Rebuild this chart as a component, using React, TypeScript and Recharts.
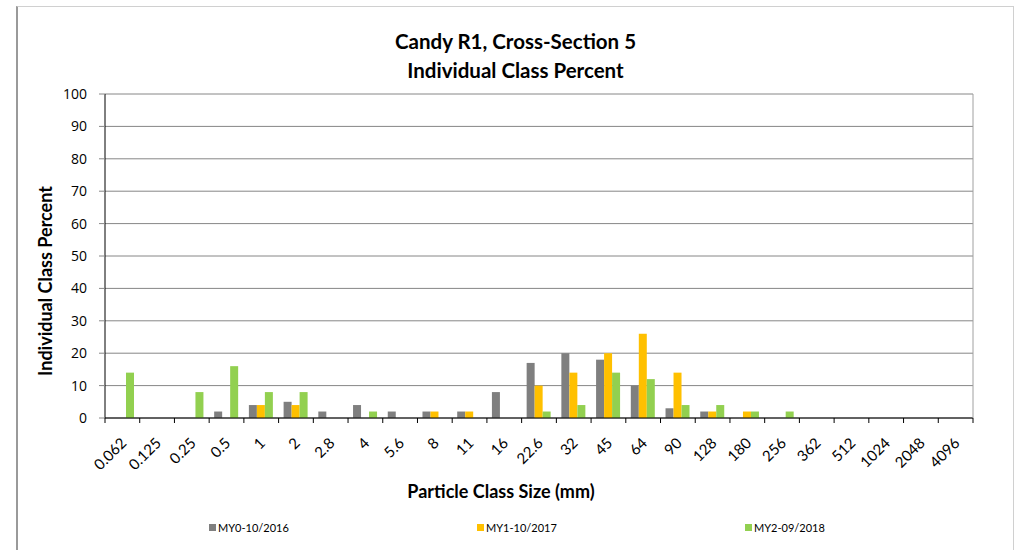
import { BarChart, Bar, XAxis, YAxis, CartesianGrid } from "recharts";

const SIZES = [
  "0.062", "0.125", "0.25", "0.5", "1", "2", "2.8", "4", "5.6", "8", "11", "16", "22.6",
  "32", "45", "64", "90", "128", "180", "256", "362", "512", "1024", "2048", "4096",
];
const MY0 = [0, 0, 0, 2, 4, 5, 2, 4, 2, 2, 2, 8, 17, 20, 18, 10, 3, 2, 0, 0, 0, 0, 0, 0, 0];
const MY1 = [0, 0, 0, 0, 4, 4, 0, 0, 0, 2, 2, 0, 10, 14, 20, 26, 14, 2, 2, 0, 0, 0, 0, 0, 0];
const MY2 = [14, 0, 8, 16, 8, 8, 0, 2, 0, 0, 0, 0, 2, 4, 14, 12, 4, 4, 2, 2, 0, 0, 0, 0, 0];
const SERIES = [
  { key: "my0", name: "MY0-10/2016", color: "#7f7f7f", values: MY0 },
  { key: "my1", name: "MY1-10/2017", color: "#ffc000", values: MY1 },
  { key: "my2", name: "MY2-09/2018", color: "#92d050", values: MY2 },
];
const Y_TICKS = [0, 10, 20, 30, 40, 50, 60, 70, 80, 90, 100];

const FONT = "Lato, 'Open Sans', sans-serif";
const W = 1019;
const H = 550;
const PLOT_LEFT = 105;
const PLOT_RIGHT = 973;
const HALF_BAND = (PLOT_RIGHT - PLOT_LEFT) / SIZES.length / 2;

const data = SIZES.map((size, i) => {
  const row: Record<string, string | number> = { size };
  SERIES.forEach((s) => {
    row[s.key] = s.values[i];
  });
  return row;
});

function SizeTick(props: any) {
  const { x, y, payload, index } = props;
  const ax = x + 5;
  const ay = y + 19;
  const top = y - 7;
  return (
    <g>
      <line x1={x - HALF_BAND} x2={x - HALF_BAND} y1={top} y2={top + 5} stroke="#000" />
      {index === SIZES.length - 1 && (
        <line x1={x + HALF_BAND} x2={x + HALF_BAND} y1={top} y2={top + 5} stroke="#000" />
      )}
      <text
        x={ax}
        y={ay}
        textAnchor="end"
        fontSize={15}
        fontFamily={FONT}
        fill="#000"
        transform={`rotate(-45, ${ax}, ${ay})`}
      >
        {payload.value}
      </text>
    </g>
  );
}

export default function App() {
  return (
    <div style={{ position: "absolute", left: 0, top: 0, width: W, height: H, background: "#fff", overflow: "hidden", fontFamily: FONT }}>
      <div
        style={{
          position: "absolute",
          left: 16,
          top: 6,
          width: 995,
          height: 560,
          border: "1px solid #d0d0d0",
          borderLeft: "2px solid #9a9a9a",
        }}
      />
      <div style={{ position: "absolute", left: 0, top: 0 }}>
        <BarChart
          width={W}
          height={H}
          data={data}
          margin={{ top: 94, right: W - PLOT_RIGHT - 1, bottom: 0, left: 0 }}
          barSize={8}
          barGap={0}
        >
          <CartesianGrid horizontal vertical={false} stroke="#868686" />
          <XAxis
            dataKey="size"
            height={132}
            tickLine={false}
            tickSize={5}
            axisLine={{ stroke: "#000" }}
            tick={<SizeTick />}
            interval={0}
          />
          <YAxis
            width={PLOT_LEFT}
            domain={[0, 100]}
            ticks={Y_TICKS}
            tickSize={6}
            tickMargin={12}
            tickLine={{ stroke: "#868686" }}
            axisLine={{ stroke: "#000" }}
            tick={{ fontSize: 14, fill: "#000", fontFamily: "'Open Sans', sans-serif" }}
            interval={0}
          />
          <YAxis
            yAxisId="frame"
            orientation="right"
            width={1}
            tick={false}
            tickLine={false}
            axisLine={{ stroke: "#a0a0a0" }}
          />
          {SERIES.map((s) => (
            <Bar key={s.key} dataKey={s.key} name={s.name} fill={s.color} isAnimationActive={false} />
          ))}
        </BarChart>
      </div>
      <div style={{ position: "absolute", left: 0, width: W, top: 27, textAlign: "center", fontWeight: 700, fontSize: 20.5, lineHeight: "29px", paddingLeft: 6 }}>
        <div>Candy R1, Cross-Section 5</div>
        <div>Individual Class Percent</div>
      </div>
      <div
        style={{
          position: "absolute",
          left: 45,
          top: 281,
          transform: "translate(-50%, -50%) rotate(-90deg)",
          whiteSpace: "nowrap",
          fontWeight: 700,
          fontSize: 18,
        }}
      >
        Individual Class Percent
      </div>
      <div style={{ position: "absolute", left: 501, top: 491, transform: "translate(-50%, -50%)", whiteSpace: "nowrap", fontWeight: 700, fontSize: 18 }}>
        Particle Class Size (mm)
      </div>
      {SERIES.map((s, i) => (
        <div
          key={s.key}
          style={{ position: "absolute", left: 209 + i * 268, top: 521, display: "flex", alignItems: "center", fontSize: 11, whiteSpace: "nowrap" }}
        >
          <span style={{ display: "inline-block", width: 7, height: 7, background: s.color, marginRight: 2 }} />
          {s.name}
        </div>
      ))}
    </div>
  );
}
